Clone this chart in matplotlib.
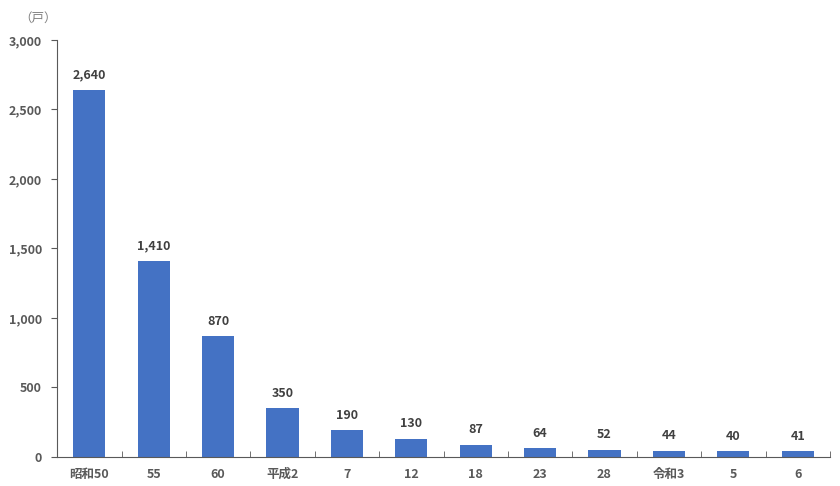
import matplotlib
matplotlib.use("Agg")
import matplotlib.pyplot as plt
import numpy as np
from matplotlib.ticker import FuncFormatter, FixedLocator

plt.rcParams["font.family"] = ["Noto Sans CJK JP", "DejaVu Sans"]

years = ["昭和50", "55", "60", "平成2", "7", "12", "18", "23", "28", "令和3", "5", "6"]
households = [2640, 1410, 870, 350, 190, 130, 87, 64, 52, 44, 40, 41]

BLUE = "#4472C4"
GRAY = "#595959"

fig = plt.figure(figsize=(8.4, 4.86), dpi=100)
ax = fig.add_axes([0.068, 0.06, 0.92, 0.858])

x = np.arange(len(years))
ax.bar(x, households, width=0.5, color=BLUE, zorder=2)

for xi, v in zip(x, households):
    ax.text(xi, v + 60, f"{v:,}", ha="center", va="bottom",
            fontsize=9, fontweight="bold", color="#404040")

ax.set_xlim(-0.5, len(years) - 0.5)
ax.set_ylim(0, 3000)
ax.set_yticks(np.arange(0, 3001, 500))
ax.yaxis.set_major_formatter(FuncFormatter(lambda v, p: f"{int(v):,}"))
ax.set_xticks(x)
ax.set_xticklabels(years)
ax.xaxis.set_minor_locator(FixedLocator(np.arange(-0.5, len(years), 1.0)))

for lab in ax.get_xticklabels() + ax.get_yticklabels():
    lab.set_fontsize(9)
    lab.set_fontweight("bold")
    lab.set_color(GRAY)

ax.tick_params(axis="x", which="major", length=0, pad=8)
ax.tick_params(axis="x", which="minor", direction="in", length=4, color=GRAY)
ax.tick_params(axis="y", direction="out", length=4, color=GRAY, pad=7)

for s in ["top", "right"]:
    ax.spines[s].set_visible(False)
ax.spines["left"].set_color(GRAY)
ax.spines["bottom"].set_color(GRAY)

fig.text(0.045, 0.962, "（戸）", ha="center", va="center", fontsize=9, color="#7f7f7f")

fig.savefig("out.png", dpi=100)
